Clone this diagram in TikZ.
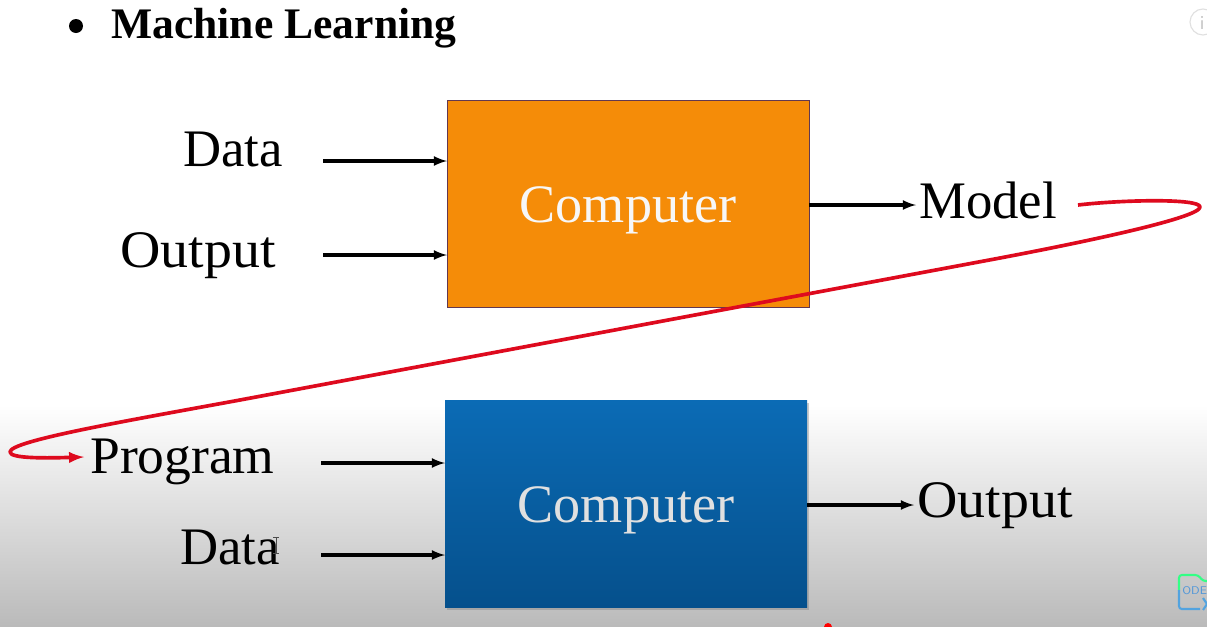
\documentclass[tikz,border=0pt]{standalone}
\usepackage{fontspec}
\setmainfont{Liberation Serif}
\usepackage{xcolor}
\usetikzlibrary{shadows}
\definecolor{boxorange}{HTML}{F58C08}
\definecolor{boxblue}{HTML}{0B6BB5}
\definecolor{boxbluedark}{HTML}{05508C}
\definecolor{curvered}{HTML}{DE0A1E}
\tikzset{
    lbl/.style={font=\fontsize{37.5pt}{40pt}\selectfont, anchor=base west, inner sep=0pt},
    comp/.style={minimum width=362*0.025cm, minimum height=207*0.025cm, inner sep=0pt, outer sep=0pt},
    comptext/.style={font=\fontsize{38.5pt}{40pt}\selectfont, anchor=base, inner sep=0pt},
    link/.style={-latex, line width=2.2pt, black},
    redline/.style={line width=2.6pt, curvered}
}

\begin{document}
\begin{tikzpicture}[x=0.025cm, y=-0.025cm]
    \useasboundingbox (0,0) rectangle (1207,626);
    % Sfondo
    \fill[white] (0,0) rectangle (1207,400);
    \shade[top color=white, bottom color=black!27] (0,405) rectangle (1207,626);

    % Titolo
    \fill[black] (76,26) circle (7);
    \node[lbl, font=\fontsize{31pt}{34pt}\selectfont\bfseries] (title) at (111,38) {Machine Learning};

    % Blocchi
    \node[comp, fill=boxorange, draw=black!50!blue!60!boxorange, line width=0.4pt, drop shadow={shadow xshift=1pt, shadow yshift=-1pt, opacity=0.3}] (compA) at (628,203.5) {};
    \node[comp, top color=boxblue, bottom color=boxbluedark, drop shadow={shadow xshift=1.5pt, shadow yshift=-1.5pt, opacity=0.4}] (compB) at (626,504) {};
    \node[comptext, white!97!black] (textA) at (628,222) {Computer};
    \node[comptext, white!88!black] (textB) at (626,522) {Computer};

    % Etichette sopra
    \node[lbl] (dataA) at (183,166) {Data};
    \node[lbl, transform shape, xscale=1.06] (outputA) at (120,267) {Output};
    \node[lbl] (model) at (919,218) {Model};

    % Etichette sotto
    \node[lbl, transform shape, xscale=1.015] (program) at (90,473) {Program};
    \node[lbl] (dataB) at (180,564) {Data};
    \node[lbl, transform shape, xscale=1.06] (outputB) at (917,517) {Output};

    % Frecce
    \coordinate (inA) at (323,161);
    \coordinate (inB) at (323,255);
    \coordinate (inC) at (321,463);
    \coordinate (inD) at (321,555);
    \coordinate (outA) at (916,205);
    \coordinate (outB) at (914,505);
    \draw[link] (inA) -- (inA -| compA.west);
    \draw[link] (inB) -- (inB -| compA.west);
    \draw[link] (inC) -- (inC -| compB.west);
    \draw[link] (inD) -- (inD -| compB.west);
    \draw[link] (outA -| compA.east) -- (outA);
    \draw[link] (outB -| compB.east) -- (outB);

    % Curva rossa
    \coordinate (redstart) at (1078,205);
    \coordinate (redend) at (84,457);
    \draw[redline, -latex, line join=round] (redstart)
        .. controls (1120,200) and (1200,198) .. (1200,207)
        .. controls (1200,217) and (1100,239) .. (1000,258)
        -- (240,400)
        .. controls (120,422) and (10,441) .. (10,452)
        .. controls (10,459) and (50,458) .. (redend);

    % Cursore
    \draw[line width=0.6pt, black!70] (273,537) -- (279,537) (276,537) -- (276,553) (273,553) -- (279,553);

    % Icona info
    \draw[black!12, line width=0.8pt] (1203,22) circle (13);
    \node[black!25, font=\sffamily\fontsize{14pt}{14pt}\selectfont, inner sep=0pt] (info) at (1202,23) {i};

    % Icona angolo
    \draw[line width=1.5pt, green!60!cyan!80!white, rounded corners=2pt] (1179,590) -- (1179,575) -- (1198,575) -- (1203,581) -- (1207,581);
    \draw[line width=1.5pt, cyan!70!blue!70!white, rounded corners=2pt] (1179,590) -- (1179,609) -- (1200,609);
    \draw[line width=1.5pt, cyan!70!blue!70!white] (1203,598) -- (1207,604) -- (1203,610);
    \node[font=\sffamily\fontsize{8pt}{8pt}\selectfont, cyan!60!blue!70!white, anchor=west, inner sep=0pt] (ode) at (1182,591) {ODE};
    \fill[red] (828,627) circle (4);
\end{tikzpicture}
\end{document}
